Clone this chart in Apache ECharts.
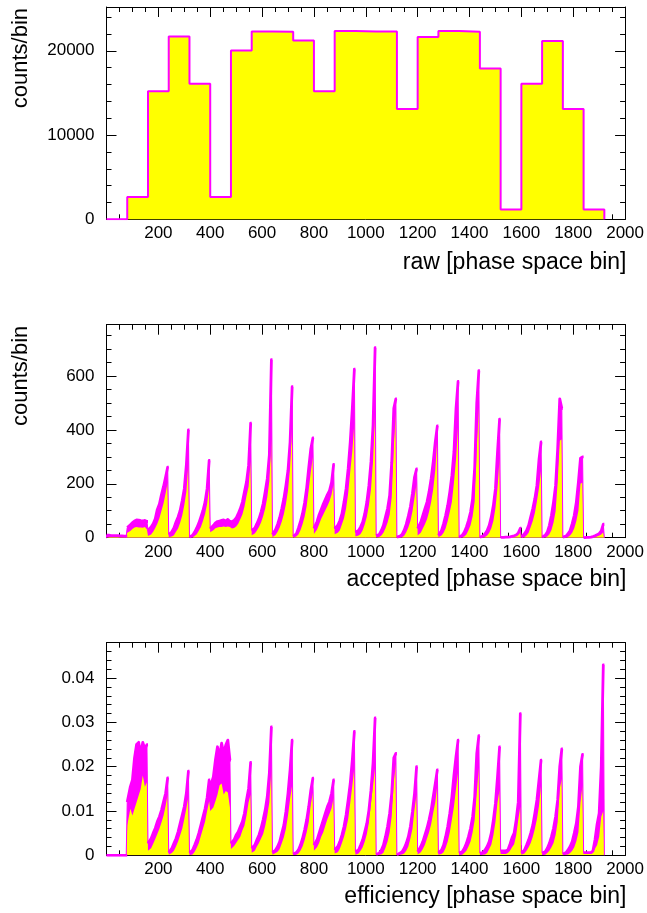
<!DOCTYPE html>
<html><head><meta charset="utf-8">
<script src="https://cdn.jsdelivr.net/npm/echarts@6/dist/echarts.min.js"></script>
<style>html,body{margin:0;padding:0;background:#fff}#c{width:647px;height:913px}</style>
</head><body><div id="c"></div>
<script>
// ---------------- DATA ----------------
// bin grid: raw panel uses 80-wide blocks, accepted/efficiency use 8-wide bins (10 per block)
const rawBlockWidth = 80;
const fineBinWidth = 8;
const binsPerBlock = 10;
const xTicks = [200, 400, 600, 800, 1000, 1200, 1400, 1600, 1800, 2000];
const rawYTicks = [0, 10000, 20000];
const accYTicks = [0, 200, 400, 600];
const effYTicks = [0, 0.01, 0.02, 0.03, 0.04];

// raw counts per 80-wide block (0-80, 80-160, ... 1840-1920)
const rawCounts = [0, 2650, 15200, 21700, 16100, 2650, 20050, 22300, 22250, 21230, 15200, 22350, 22300, 22300,
  13080, 21650, 22350, 22250, 17900, 1150, 16080, 21150, 13080, 1150];

// accepted: upper envelope (magenta) and lower envelope (yellow), 10 bins per block
const accHi = [
  9, 9, 8, 8, 8, 8, 7, 7, 6, 6,
  38, 48, 56, 62, 66, 65, 63, 62, 64, 60,
  28, 40, 52, 70, 105, 125, 160, 190, 225, 262,
  12, 22, 36, 58, 77, 101, 138, 182, 270, 400,
  3, 9, 21, 36, 54, 77, 101, 132, 182, 287,
  33, 45, 55, 60, 62, 64, 66, 62, 68, 60,
  58, 64, 73, 89, 108, 132, 170, 207, 268, 425,
  27, 36, 52, 70, 95, 126, 170, 219, 306, 660,
  12, 30, 50, 75, 108, 145, 194, 250, 355, 560,
  5, 14, 35, 60, 90, 130, 185, 260, 330, 370,
  35, 60, 85, 105, 125, 142, 160, 175, 205, 272,
  33, 46, 64, 89, 132, 182, 256, 355, 479, 625,
  20, 27, 40, 58, 89, 132, 194, 281, 417, 705,
  8, 12, 27, 46, 77, 108, 157, 280, 480, 515,
  2, 6, 12, 28, 50, 80, 115, 165, 225, 255,
  35, 58, 83, 108, 132, 170, 219, 281, 355, 415,
  9, 27, 52, 83, 120, 170, 231, 318, 480, 580,
  2, 9, 21, 40, 64, 95, 145, 260, 500, 620,
  2, 6, 15, 27, 46, 77, 120, 182, 318, 440,
  1, 1, 2, 2, 3, 5, 7, 10, 18, 35,
  2, 15, 27, 46, 77, 108, 145, 194, 290, 355,
  2, 9, 21, 46, 83, 132, 194, 330, 515, 480,
  2, 6, 15, 27, 52, 83, 132, 207, 295, 300,
  0, 1, 1, 2, 4, 7, 11, 15, 25, 50
];
const accLo = [
  3, 3, 3, 3, 3, 3, 2, 2, 2, 2,
  18, 25, 32, 38, 40, 38, 38, 37, 40, 30,
  6, 12, 22, 36, 52, 72, 100, 128, 165, 205,
  2, 4, 9, 22, 34, 55, 82, 120, 170, 275,
  0, 1, 6, 13, 26, 40, 62, 88, 125, 190,
  20, 28, 35, 38, 40, 40, 42, 40, 42, 40,
  34, 36, 42, 52, 68, 86, 115, 155, 190, 285,
  9, 16, 27, 40, 56, 80, 108, 150, 210, 365,
  2, 10, 22, 38, 60, 88, 125, 175, 260, 445,
  1, 4, 12, 28, 50, 78, 118, 180, 245, 300,
  14, 30, 50, 70, 86, 102, 118, 135, 160, 200,
  13, 18, 28, 50, 72, 108, 165, 245, 320, 425,
  4, 8, 14, 28, 50, 78, 120, 180, 285, 475,
  1, 3, 8, 18, 35, 56, 85, 150, 340, 465,
  0, 1, 2, 7, 20, 38, 62, 98, 150, 200,
  8, 18, 34, 50, 68, 96, 132, 180, 250, 375,
  2, 8, 18, 35, 62, 96, 132, 205, 290, 415,
  0, 1, 4, 12, 28, 46, 80, 135, 335, 485,
  0, 1, 3, 8, 18, 35, 62, 110, 185, 295,
  0, 0, 1, 1, 2, 3, 4, 6, 10, 20,
  0, 2, 8, 18, 40, 62, 92, 135, 185, 250,
  0, 1, 4, 13, 29, 56, 98, 205, 360, 365,
  0, 1, 3, 8, 18, 35, 62, 100, 200, 205,
  0, 0, 0, 1, 2, 3, 5, 8, 12, 20
];

// efficiency: upper envelope (magenta) and lower envelope (yellow)
const effHi = [
  0, 0, 0, 0, 0, 0, 0, 0, 0, 0,
  0.0120, 0.0155, 0.0170, 0.0220, 0.0250, 0.0255, 0.0230, 0.0255, 0.0240, 0.0250,
  0.0027, 0.0038, 0.0050, 0.0061, 0.0076, 0.0087, 0.0102, 0.0121, 0.0140, 0.0175,
  0.0006, 0.0016, 0.0027, 0.0038, 0.0053, 0.0072, 0.0091, 0.0110, 0.0140, 0.0190,
  0.0005, 0.0012, 0.0023, 0.0035, 0.0050, 0.0068, 0.0087, 0.0105, 0.0130, 0.0170,
  0.0155, 0.0177, 0.0215, 0.0245, 0.0223, 0.0253, 0.0230, 0.0249, 0.0260, 0.0215,
  0.0027, 0.0035, 0.0046, 0.0053, 0.0065, 0.0076, 0.0095, 0.0125, 0.0151, 0.0210,
  0.0016, 0.0023, 0.0035, 0.0046, 0.0061, 0.0080, 0.0102, 0.0132, 0.0185, 0.0290,
  0.0006, 0.0012, 0.0020, 0.0031, 0.0050, 0.0068, 0.0099, 0.0140, 0.0193, 0.0260,
  0.0003, 0.0006, 0.0012, 0.0023, 0.0038, 0.0057, 0.0080, 0.0110, 0.0147, 0.0174,
  0.0023, 0.0035, 0.0050, 0.0065, 0.0080, 0.0095, 0.0110, 0.0121, 0.0140, 0.0170,
  0.0012, 0.0020, 0.0031, 0.0046, 0.0065, 0.0091, 0.0125, 0.0162, 0.0215, 0.0280,
  0.0008, 0.0012, 0.0023, 0.0035, 0.0053, 0.0072, 0.0102, 0.0147, 0.0208, 0.0310,
  0.0002, 0.0005, 0.0012, 0.0023, 0.0042, 0.0065, 0.0095, 0.0140, 0.0220, 0.0230,
  0.0001, 0.0005, 0.0008, 0.0016, 0.0027, 0.0042, 0.0065, 0.0099, 0.0140, 0.0200,
  0.0008, 0.0020, 0.0031, 0.0046, 0.0061, 0.0080, 0.0102, 0.0132, 0.0162, 0.0193,
  0.0005, 0.0012, 0.0023, 0.0042, 0.0065, 0.0095, 0.0132, 0.0181, 0.0223, 0.0260,
  0.0005, 0.0008, 0.0016, 0.0027, 0.0042, 0.0061, 0.0087, 0.0132, 0.0230, 0.0270,
  0.0005, 0.0006, 0.0012, 0.0020, 0.0031, 0.0050, 0.0080, 0.0117, 0.0177, 0.0245,
  0.0010, 0.0010, 0.0010, 0.0012, 0.0025, 0.0040, 0.0050, 0.0080, 0.0120, 0.0320,
  0.0005, 0.0012, 0.0023, 0.0035, 0.0050, 0.0068, 0.0095, 0.0125, 0.0170, 0.0215,
  0.0005, 0.0008, 0.0016, 0.0027, 0.0042, 0.0061, 0.0087, 0.0125, 0.0200, 0.0240,
  0.0003, 0.0006, 0.0012, 0.0020, 0.0031, 0.0050, 0.0072, 0.0110, 0.0200, 0.0228,
  0.0006, 0.0006, 0.0006, 0.0006, 0.0010, 0.0035, 0.0070, 0.0095, 0.0200, 0.0430
];
const effLo = [
  0, 0, 0, 0, 0, 0, 0, 0, 0, 0,
  0.0068, 0.0105, 0.0090, 0.0105, 0.0120, 0.0135, 0.0150, 0.0180, 0.0155, 0.0165,
  0.0010, 0.0016, 0.0026, 0.0037, 0.0048, 0.0060, 0.0074, 0.0090, 0.0112, 0.0138,
  0.0001, 0.0005, 0.0010, 0.0020, 0.0031, 0.0045, 0.0060, 0.0082, 0.0106, 0.0132,
  0.0000, 0.0002, 0.0008, 0.0017, 0.0028, 0.0044, 0.0060, 0.0076, 0.0100, 0.0122,
  0.0100, 0.0108, 0.0122, 0.0137, 0.0158, 0.0162, 0.0137, 0.0145, 0.0142, 0.0108,
  0.0014, 0.0021, 0.0028, 0.0035, 0.0042, 0.0056, 0.0067, 0.0090, 0.0120, 0.0138,
  0.0006, 0.0010, 0.0020, 0.0028, 0.0038, 0.0048, 0.0066, 0.0090, 0.0120, 0.0195,
  0.0001, 0.0005, 0.0008, 0.0014, 0.0027, 0.0041, 0.0060, 0.0090, 0.0127, 0.0158,
  0.0000, 0.0001, 0.0004, 0.0010, 0.0020, 0.0034, 0.0052, 0.0075, 0.0115, 0.0142,
  0.0010, 0.0018, 0.0028, 0.0042, 0.0052, 0.0067, 0.0082, 0.0094, 0.0106, 0.0130,
  0.0004, 0.0007, 0.0015, 0.0028, 0.0042, 0.0060, 0.0082, 0.0118, 0.0157, 0.0198,
  0.0001, 0.0004, 0.0010, 0.0018, 0.0031, 0.0048, 0.0074, 0.0118, 0.0157, 0.0198,
  0.0000, 0.0001, 0.0002, 0.0006, 0.0017, 0.0031, 0.0052, 0.0088, 0.0165, 0.0208,
  0.0000, 0.0001, 0.0002, 0.0004, 0.0010, 0.0020, 0.0038, 0.0060, 0.0105, 0.0138,
  0.0002, 0.0007, 0.0014, 0.0024, 0.0038, 0.0052, 0.0070, 0.0096, 0.0120, 0.0158,
  0.0001, 0.0003, 0.0007, 0.0017, 0.0031, 0.0052, 0.0080, 0.0110, 0.0150, 0.0188,
  0.0000, 0.0001, 0.0005, 0.0010, 0.0020, 0.0031, 0.0052, 0.0080, 0.0142, 0.0198,
  0.0000, 0.0001, 0.0002, 0.0005, 0.0014, 0.0024, 0.0045, 0.0075, 0.0120, 0.0148,
  0.0003, 0.0003, 0.0003, 0.0005, 0.0010, 0.0018, 0.0025, 0.0045, 0.0080, 0.0110,
  0.0001, 0.0004, 0.0010, 0.0018, 0.0028, 0.0042, 0.0060, 0.0082, 0.0112, 0.0158,
  0.0000, 0.0001, 0.0005, 0.0010, 0.0018, 0.0028, 0.0046, 0.0075, 0.0150, 0.0173,
  0.0000, 0.0001, 0.0002, 0.0005, 0.0010, 0.0018, 0.0032, 0.0052, 0.0120, 0.0158,
  0.0003, 0.0003, 0.0003, 0.0003, 0.0005, 0.0015, 0.0023, 0.0042, 0.0087, 0.0100
];

// ---------------- CHART ----------------
const MAGENTA = '#ff00ff', YELLOW = '#ffff00';
const FONT = 'Liberation Sans, Arial, Helvetica, sans-serif';
const TICK_FS = 17, XTITLE_FS = 23, YTITLE_FS = 22;

// coarse histogram outline (step at each block edge, closing drop to zero)
function stepPoints(values, width) {
  const pts = [[0, 0]];
  values.forEach((v, i) => pts.push([i * width, v]));
  pts.push([values.length * width, 0]);
  return pts;
}
// fine histogram drawn through bin centres; vertical edges at block boundaries.
// withBreaks: leave the block-boundary drops out (null breaks the line)
function blockPoints(values, width, perBlock, withBreaks) {
  const pts = withBreaks ? [] : [[0, 0]];
  const nBlocks = values.length / perBlock;
  for (let b = 0; b < nBlocks; b++) {
    const s = b * width * perBlock;
    const vals = values.slice(b * perBlock, (b + 1) * perBlock);
    pts.push([s, vals[0]]);
    vals.forEach((v, k) => pts.push([s + k * width + width / 2, v]));
    pts.push([s + width * perBlock, vals[perBlock - 1]]);
    if (withBreaks) pts.push([null, null]);
  }
  if (!withBreaks) pts.push([values.length * width, 0]);
  return pts;
}

const panels = [
  { top: 7, height: 212.3, max: 25200, ticks: rawYTicks, minor: 2000, ytitle: 'counts/bin', xtitle: 'raw [phase space bin]', xtitleY: 263 },
  { top: 324.7, height: 213, max: 790, ticks: accYTicks, minor: 50, ytitle: 'counts/bin', xtitle: 'accepted [phase space bin]', xtitleY: 580 },
  { top: 642.7, height: 212.6, max: 0.048, ticks: effYTicks, minor: 0.002, ytitle: null, xtitle: 'efficiency [phase space bin]', xtitleY: 897 }
];
const LEFT = 106.5, WIDTH = 520;

const grid = [], xAxis = [], yAxis = [], series = [], graphic = [];
panels.forEach((p, g) => {
  grid.push({ left: LEFT, top: p.top, width: WIDTH, height: p.height, containLabel: false });
  const xMajor = xTicks[1] - xTicks[0];
  const yMajor = p.ticks[1] - p.ticks[0];
  const lineStyle = { color: '#000', width: 1 };
  const baseX = { gridIndex: g, type: 'value', min: 0, max: 2000, splitLine: { show: false } };
  xAxis.push(Object.assign({}, baseX, {
    position: 'bottom', interval: xMajor,
    axisLine: { show: true, onZero: false, lineStyle },
    axisTick: { show: true, inside: true, length: 10, lineStyle },
    axisLabel: { show: true, margin: 6, fontSize: TICK_FS, fontFamily: FONT, color: '#000',
      formatter: v => (xTicks.indexOf(v) >= 0 ? String(v) : '') }
  }));
  xAxis.push(Object.assign({}, baseX, {
    position: 'bottom', interval: 50,
    axisLine: { show: false, onZero: false },
    axisTick: { show: true, inside: true, length: 5, lineStyle }, axisLabel: { show: false }
  }));
  xAxis.push(Object.assign({}, baseX, {
    position: 'top', interval: xMajor,
    axisLine: { show: true, onZero: false, lineStyle },
    axisTick: { show: true, inside: true, length: 10, lineStyle }, axisLabel: { show: false }
  }));
  xAxis.push(Object.assign({}, baseX, {
    position: 'top', interval: 50,
    axisLine: { show: false, onZero: false },
    axisTick: { show: true, inside: true, length: 5, lineStyle }, axisLabel: { show: false }
  }));
  const baseY = { gridIndex: g, type: 'value', min: 0, max: p.max, splitLine: { show: false } };
  yAxis.push(Object.assign({}, baseY, {
    position: 'left', interval: yMajor,
    axisLine: { show: true, onZero: false, lineStyle },
    axisTick: { show: true, inside: true, length: 10, lineStyle },
    axisLabel: { show: true, margin: 12, fontSize: TICK_FS, fontFamily: FONT, color: '#000',
      showMaxLabel: false,
      formatter: v => { const i = p.ticks.findIndex(t => Math.abs(t - v) < 1e-9); return i >= 0 ? String(p.ticks[i]) : ''; } }
  }));
  yAxis.push(Object.assign({}, baseY, {
    position: 'left', interval: p.minor,
    axisLine: { show: false, onZero: false },
    axisTick: { show: true, inside: true, length: 5, lineStyle }, axisLabel: { show: false }
  }));
  yAxis.push(Object.assign({}, baseY, {
    position: 'right', interval: yMajor,
    axisLine: { show: true, onZero: false, lineStyle },
    axisTick: { show: true, inside: true, length: 10, lineStyle }, axisLabel: { show: false }
  }));
  yAxis.push(Object.assign({}, baseY, {
    position: 'right', interval: p.minor,
    axisLine: { show: false, onZero: false },
    axisTick: { show: true, inside: true, length: 5, lineStyle }, axisLabel: { show: false }
  }));

  const xi = g * 4, yi = g * 4;
  if (g === 0) {
    series.push({ type: 'line', step: 'end', xAxisIndex: xi, yAxisIndex: yi, symbol: 'none',
      data: stepPoints(rawCounts, rawBlockWidth), lineStyle: { color: MAGENTA, width: 2 },
      areaStyle: { color: YELLOW, opacity: 1 }, z: 2 });
  } else {
    const hi = g === 1 ? accHi : effHi;
    const lo = g === 1 ? accLo : effLo;
    series.push({ type: 'line', xAxisIndex: xi, yAxisIndex: yi, symbol: 'none',
      data: blockPoints(hi, fineBinWidth, binsPerBlock, false), lineStyle: { width: 0 },
      areaStyle: { color: MAGENTA, opacity: 1 }, z: 2 });
    series.push({ type: 'line', xAxisIndex: xi, yAxisIndex: yi, symbol: 'none',
      data: blockPoints(lo, fineBinWidth, binsPerBlock, false), lineStyle: { width: 0 },
      areaStyle: { color: YELLOW, opacity: 1 }, z: 2 });
    // thin full outline (includes the drops at block edges)
    series.push({ type: 'line', xAxisIndex: xi, yAxisIndex: yi, symbol: 'none',
      data: blockPoints(hi, fineBinWidth, binsPerBlock, false), lineStyle: { color: MAGENTA, width: 1 }, z: 3 });
    // thick ribbon along each block's rise (fluctuating fine-bin outline)
    series.push({ type: 'line', xAxisIndex: xi, yAxisIndex: yi, symbol: 'none', connectNulls: false,
      data: blockPoints(hi, fineBinWidth, binsPerBlock, true),
      lineStyle: { color: MAGENTA, width: 2.8, join: 'round', cap: 'butt' }, z: 3 });
  }

  if (p.ytitle) {
    graphic.push({ type: 'text', x: 21, y: p.top + 1, rotation: Math.PI / 2,
      style: { text: p.ytitle, fontSize: YTITLE_FS, fontFamily: FONT, fill: '#000', align: 'right', verticalAlign: 'middle' } });
  }
  graphic.push({ type: 'text', x: LEFT + WIDTH, y: p.xtitleY,
    style: { text: p.xtitle, fontSize: XTITLE_FS, fontFamily: FONT, fill: '#000', align: 'right', verticalAlign: 'middle' } });
});

const chart = echarts.init(document.getElementById('c'), null, { renderer: 'canvas', width: 647, height: 913 });
chart.setOption({ animation: false, backgroundColor: '#fff', grid, xAxis, yAxis, series, graphic });
</script>
</body></html>
